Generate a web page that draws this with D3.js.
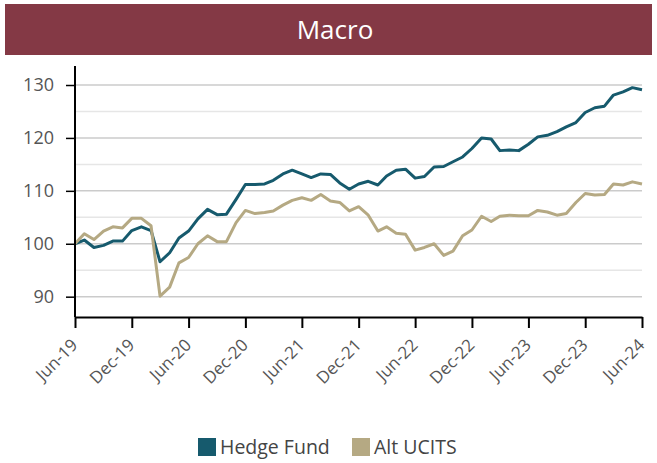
<!DOCTYPE html>
<html>
<head>
<meta charset="utf-8">
<script src="https://cdn.jsdelivr.net/npm/d3@7"></script>
<style>
  body { margin: 0; background: #fff; }
  svg { font-family: "Open Sans", "Noto Sans", sans-serif; }
</style>
</head>
<body>
<script>
// monthly index levels, Jun-19 .. Jun-24
var hedgeFund = [100, 100.7, 99.3, 99.7, 100.5, 100.5, 102.5, 103.2, 102.5, 96.6,
    98.3, 101.1, 102.4, 104.7, 106.5, 105.5, 105.6, 108.4, 111.2, 111.2,
    111.3, 112, 113.2, 113.9, 113.2, 112.5, 113.2, 113.1, 111.5, 110.3,
    111.3, 111.8, 111.1, 112.8, 113.9, 114.1, 112.4, 112.7, 114.5, 114.6,
    115.5, 116.4, 118, 120, 119.8, 117.6, 117.7, 117.6, 118.8, 120.2,
    120.5, 121.2, 122.1, 122.9, 124.8, 125.7, 126, 128.1, 128.7, 129.5, 129.1]
var altUcits = [100, 101.9, 100.8, 102.4, 103.2, 103, 104.8, 104.8, 103.4, 90.1,
    91.8, 96.4, 97.4, 100, 101.5, 100.4, 100.4, 104, 106.3, 105.7,
    105.9, 106.2, 107.3, 108.2, 108.7, 108.2, 109.3, 108.1, 107.8, 106.2,
    107, 105.4, 102.4, 103.2, 102, 101.8, 98.8, 99.3, 100, 97.8,
    98.6, 101.5, 102.6, 105.2, 104.2, 105.2, 105.4, 105.3, 105.3, 106.3,
    106, 105.4, 105.7, 107.8, 109.5, 109.2, 109.3, 111.3, 111.1, 111.7, 111.3]
var seriesNames = ['Hedge Fund', 'Alt UCITS']
var seriesColors = ['#165a6d', '#b5a983']
var yTicks = [90, 100, 110, 120, 130]
var yMinor = [95, 105, 115, 125]
var title = 'Macro'

var width = 657, height = 463
var margin = { top: 64, right: 15, bottom: 146, left: 75 }

var dates = hedgeFund.map((d, i) => new Date(2019, 5 + i, 1))

var svg = d3.select('body').append('svg')
    .attr('width', width)
    .attr('height', height)

// title bar
svg.append('rect')
    .attr('x', 5).attr('y', 4)
    .attr('width', 647).attr('height', 51)
    .attr('fill', '#843945')
svg.append('text')
    .attr('x', 335).attr('y', 39)
    .attr('text-anchor', 'middle')
    .attr('fill', '#fff')
    .attr('font-size', 26)
    .text(title)

var xScale = d3.scaleTime()
    .domain(d3.extent(dates))
    .range([margin.left, width - margin.right])

var yScale = d3.scaleLinear()
    .domain([86.16, 133.97])
    .range([height - margin.bottom, margin.top])

// gridlines
svg.append('g').selectAll('line')
    .data(yMinor).enter().append('line')
    .attr('x1', margin.left).attr('x2', width - margin.right)
    .attr('y1', d => yScale(d)).attr('y2', d => yScale(d))
    .attr('stroke', '#e6e6e6').attr('stroke-width', 1.5)
svg.append('g').selectAll('line')
    .data(yTicks).enter().append('line')
    .attr('x1', margin.left).attr('x2', width - margin.right)
    .attr('y1', d => yScale(d)).attr('y2', d => yScale(d))
    .attr('stroke', '#cbcbcb').attr('stroke-width', 1.5)

// lines
var allSeries = [hedgeFund, altUcits]
var line = d3.line()
    .x((d, i) => xScale(dates[i]))
    .y(d => yScale(d))

svg.selectAll('.series').data(allSeries).enter()
    .append('path')
    .attr('class', 'series')
    .attr('d', d => line(d))
    .attr('fill', 'none')
    .attr('stroke', (d, i) => seriesColors[i])
    .attr('stroke-width', 3)
    .attr('stroke-linejoin', 'round')

// axes
var yAxis = d3.axisLeft(yScale).tickValues(yTicks).tickSize(9).tickPadding(12)
var yAxisG = svg.append('g')
    .attr('transform', 'translate(' + margin.left + ',0)')
    .call(yAxis)
yAxisG.select('.domain').remove()
yAxisG.append('line')
    .attr('x1', 0).attr('x2', 0)
    .attr('y1', margin.top + 2).attr('y2', height - margin.bottom)
    .attr('stroke', '#000').attr('stroke-width', 2)
yAxisG.selectAll('.tick line').attr('stroke', '#000').attr('stroke-width', 1.5)
yAxisG.selectAll('.tick text')
    .attr('font-size', 18)
    .attr('fill', '#555')
    .attr('font-family', '"Open Sans", sans-serif')

var tickDates = dates.filter((d, i) => i % 6 === 0)
var xAxis = d3.axisBottom(xScale)
    .tickValues(tickDates)
    .tickFormat(d3.timeFormat('%b-%y'))
    .tickSize(11)
    .tickSizeOuter(0)
var xAxisG = svg.append('g')
    .attr('transform', 'translate(0,' + (height - margin.bottom) + ')')
    .call(xAxis)
xAxisG.select('.domain').attr('stroke', '#000').attr('stroke-width', 2)
xAxisG.selectAll('.tick line').attr('stroke', '#000').attr('stroke-width', 2)
xAxisG.selectAll('.tick text')
    .attr('font-size', 17)
    .attr('fill', '#555')
    .attr('font-family', '"Open Sans", sans-serif')
    .attr('text-anchor', 'end')
    .attr('transform', 'translate(-1,25) rotate(-45)')
    .attr('dy', '0.35em')
    .attr('y', 0)

// legend
var legendX = [198, 352]
var legend = svg.selectAll('.legend').data(seriesNames).enter()
    .append('g')
    .attr('class', 'legend')
    .attr('transform', (d, i) => 'translate(' + legendX[i] + ',438)')
legend.append('rect')
    .attr('width', 18).attr('height', 18)
    .attr('fill', (d, i) => seriesColors[i])
legend.append('text')
    .attr('x', 22).attr('y', 16)
    .attr('font-size', 19.5)
    .attr('fill', '#444')
    .text(d => d)
</script>
</body>
</html>
